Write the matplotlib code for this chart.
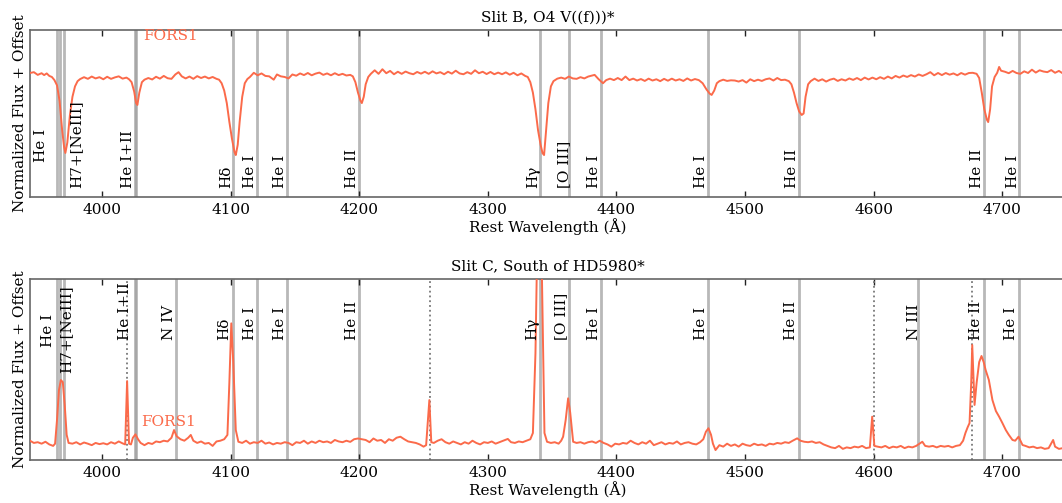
import matplotlib
matplotlib.use('Agg')
import matplotlib.pyplot as plt
import matplotlib.transforms as mtransforms

plt.rcParams['font.family'] = ['DejaVu Serif']
plt.rcParams['font.size'] = 11

# ---- Slit B spectrum (top) ----
wave_b = [3944, 3947, 3950, 3953, 3955, 3957, 3959, 3961, 3963, 3965, 3967, 3969, 3970.5, 3971.5, 3973, 3975,
          3977, 3979, 3981, 3983, 3986, 3989, 3992, 3995, 3998, 4001, 4004, 4007, 4010, 4013, 4016, 4019,
          4021, 4023, 4025, 4026.5, 4027.5, 4029, 4031, 4033, 4036, 4039, 4042, 4045, 4048, 4051, 4054, 4057,
          4059.5, 4062, 4065, 4068, 4071, 4074, 4077, 4080, 4083, 4086, 4089, 4091, 4093, 4095, 4097, 4099,
          4101, 4103, 4104, 4105.5, 4107, 4109, 4111, 4113, 4115, 4118, 4121, 4124, 4127, 4130, 4133.5, 4136,
          4139, 4142, 4145, 4148, 4151, 4154, 4157, 4160, 4163, 4166, 4169, 4172, 4175, 4178, 4181, 4184,
          4187, 4190, 4193, 4195, 4197, 4199, 4201, 4202, 4203.5, 4205, 4207, 4209, 4212, 4215, 4218, 4221,
          4224, 4227, 4230, 4233, 4236, 4239, 4242, 4245, 4248, 4251, 4254, 4257, 4260, 4263, 4266, 4269,
          4272, 4275, 4278, 4281, 4284, 4287, 4290, 4293, 4296, 4299, 4302, 4305, 4308, 4311, 4314, 4317,
          4320, 4323, 4326, 4329, 4331, 4333, 4335, 4337, 4339, 4341, 4342.5, 4343.7, 4345, 4347, 4349, 4351,
          4354, 4357, 4360, 4363, 4366, 4369, 4372, 4375, 4378, 4381, 4383, 4386, 4389.5, 4392, 4395, 4398,
          4401, 4404, 4407, 4410, 4413, 4416, 4419, 4422, 4425, 4428, 4431, 4434, 4437, 4440, 4443, 4446,
          4449, 4452, 4455, 4458, 4461, 4464, 4467, 4470, 4472.5, 4474, 4476, 4478, 4480, 4483, 4486, 4489,
          4492, 4495, 4498, 4501, 4504, 4507, 4510, 4513, 4516, 4519, 4522, 4525, 4528, 4531, 4534, 4536,
          4538, 4540, 4542, 4544, 4545.5, 4547, 4549, 4551, 4554, 4557, 4560, 4563, 4566, 4569, 4572, 4575,
          4578, 4581, 4584, 4587, 4590, 4593, 4596, 4599, 4602, 4605, 4608, 4611, 4614, 4617, 4620, 4623,
          4626, 4629, 4632, 4635, 4638, 4641, 4644, 4647, 4650, 4653, 4656, 4659, 4662, 4665, 4668, 4671,
          4674, 4677, 4680, 4682, 4684, 4686, 4688, 4689, 4690.5, 4692, 4694, 4696, 4697.5, 4699, 4702, 4705,
          4708, 4711, 4714, 4717, 4720, 4723, 4726, 4729, 4732, 4735, 4738, 4741, 4744, 4747, 4749]
flux_b = [0.994, 0.998, 0.985, 0.993, 0.984, 0.992, 0.980, 0.975, 0.960, 0.935, 0.860, 0.720, 0.640, 0.611, 0.660, 0.790,
          0.880, 0.930, 0.955, 0.965, 0.974, 0.966, 0.977, 0.968, 0.974, 0.964, 0.976, 0.966, 0.973, 0.978, 0.967, 0.972,
          0.964, 0.950, 0.905, 0.850, 0.841, 0.900, 0.950, 0.962, 0.970, 0.963, 0.976, 0.967, 0.980, 0.969, 0.966, 0.987,
          0.998, 0.978, 0.968, 0.977, 0.966, 0.979, 0.970, 0.977, 0.968, 0.975, 0.966, 0.962, 0.945, 0.910, 0.850, 0.760,
          0.680, 0.615, 0.601, 0.650, 0.760, 0.880, 0.945, 0.965, 0.975, 0.995, 0.983, 0.992, 0.980, 0.978, 0.962, 0.987,
          0.978, 0.975, 0.968, 0.987, 0.981, 0.992, 0.984, 0.994, 0.983, 0.991, 0.996, 0.985, 0.992, 0.983, 0.993, 0.984,
          0.990, 0.982, 0.985, 0.978, 0.950, 0.900, 0.860, 0.850, 0.880, 0.940, 0.975, 0.990, 1.007, 0.990, 1.012, 0.993,
          1.004, 0.988, 1.000, 0.990, 1.001, 0.993, 0.988, 0.999, 0.991, 1.000, 0.990, 1.002, 0.992, 0.998, 0.988, 1.000,
          0.991, 1.005, 0.992, 0.988, 0.998, 0.990, 1.007, 0.993, 1.000, 0.989, 0.999, 0.988, 0.996, 0.988, 0.997, 0.986,
          0.995, 0.983, 0.992, 0.980, 0.975, 0.950, 0.900, 0.820, 0.720, 0.650, 0.610, 0.601, 0.700, 0.850, 0.930, 0.955,
          0.967, 0.972, 0.966, 0.977, 0.968, 0.966, 0.974, 0.968, 0.977, 0.982, 0.985, 0.965, 0.945, 0.960, 0.967, 0.960,
          0.970, 0.960, 0.977, 0.960, 0.967, 0.958, 0.965, 0.956, 0.967, 0.958, 0.964, 0.955, 0.966, 0.957, 0.967, 0.958,
          0.964, 0.956, 0.968, 0.958, 0.965, 0.960, 0.945, 0.915, 0.895, 0.889, 0.910, 0.945, 0.955, 0.962, 0.956, 0.959,
          0.958, 0.953, 0.960, 0.948, 0.964, 0.955, 0.962, 0.956, 0.964, 0.968, 0.958, 0.970, 0.960, 0.962, 0.955, 0.940,
          0.900, 0.850, 0.810, 0.793, 0.800, 0.880, 0.940, 0.955, 0.967, 0.956, 0.964, 0.953, 0.962, 0.967, 0.956, 0.964,
          0.958, 0.968, 0.961, 0.970, 0.960, 0.972, 0.963, 0.972, 0.964, 0.974, 0.966, 0.977, 0.968, 0.980, 0.972, 0.982,
          0.975, 0.984, 0.977, 0.987, 0.980, 0.988, 0.998, 0.983, 0.994, 0.984, 0.994, 0.986, 0.992, 0.983, 0.994, 0.986,
          0.994, 0.995, 0.990, 0.970, 0.900, 0.820, 0.770, 0.759, 0.820, 0.930, 0.975, 0.995, 1.023, 1.005, 1.000, 0.993,
          1.004, 0.994, 0.990, 1.002, 0.994, 1.010, 0.996, 1.007, 1.001, 0.998, 1.008, 0.995, 1.004, 0.992, 0.985]

# ---- Slit C spectrum (bottom) ----
wave_c = [3944, 3947, 3950, 3953, 3956, 3959, 3962, 3963.5, 3965, 3966.5, 3968, 3969.5, 3971, 3972.5, 3974, 3977,
          3980, 3983, 3986, 3989, 3992, 3995, 3998, 4001, 4004, 4007, 4010, 4013, 4016, 4018, 4019.5, 4021,
          4022.5, 4024, 4026, 4028, 4030, 4033, 4036, 4039, 4042, 4045, 4048, 4051, 4054, 4056, 4058, 4061,
          4064, 4067, 4069, 4071, 4074, 4077, 4080, 4083, 4086, 4089, 4092, 4095, 4097.5, 4099, 4100.5, 4102,
          4104, 4106, 4109, 4112, 4115, 4118, 4121, 4124, 4127, 4130, 4133, 4136, 4139, 4142, 4145, 4148,
          4151, 4154, 4157, 4160, 4163, 4166, 4169, 4172, 4175, 4178, 4181, 4184, 4187, 4190, 4193, 4196,
          4199, 4202, 4205, 4208, 4211, 4214, 4217, 4220, 4223, 4226, 4229, 4232, 4235, 4238, 4241, 4244,
          4247, 4250, 4252, 4254.5, 4256, 4258, 4261, 4264, 4267, 4270, 4273, 4276, 4279, 4282, 4285, 4288,
          4291, 4294, 4297, 4300, 4303, 4306, 4309, 4312, 4315.5, 4318, 4321, 4324, 4327, 4330, 4333, 4335,
          4337, 4338.5, 4341.5, 4343, 4344, 4346, 4349, 4352, 4355, 4357, 4358.5, 4360.5, 4362.4, 4364, 4366.3, 4369,
          4372, 4375, 4378, 4381, 4384, 4387, 4390, 4393, 4396, 4399, 4402, 4405, 4408, 4411, 4414, 4417,
          4420, 4423, 4426, 4429, 4432, 4435, 4438, 4441, 4444, 4447, 4450, 4453, 4456, 4459, 4462, 4465,
          4467.5, 4469.5, 4471.5, 4473.5, 4475, 4477, 4480, 4483, 4486, 4489, 4492, 4495, 4498, 4501, 4504, 4507,
          4510, 4513, 4516, 4519, 4522, 4525, 4528, 4531, 4534, 4537, 4540.5, 4543, 4546, 4549, 4552, 4555,
          4558, 4561, 4564, 4567, 4570, 4573, 4576, 4579, 4582, 4585, 4588, 4591, 4594, 4597, 4598.8, 4600.5,
          4603, 4606, 4609, 4612, 4615, 4618, 4621, 4624, 4627, 4630, 4633, 4635.5, 4637.8, 4640, 4643, 4646,
          4649, 4652, 4655, 4658, 4661, 4664, 4667, 4669.5, 4671.3, 4673, 4674.5, 4675.8, 4676.6, 4677.5, 4678.4, 4680,
          4682, 4683.8, 4685.5, 4687, 4689.5, 4692.3, 4695, 4697.5, 4700, 4702.7, 4705, 4707.9, 4710, 4712.6, 4715.7, 4718,
          4721, 4724, 4727, 4730, 4733, 4736, 4739.5, 4741, 4744, 4747, 4749]
flux_c = [1.010, 0.995, 1.000, 0.990, 1.003, 0.985, 0.975, 0.990, 1.150, 1.350, 1.419, 1.405, 1.250, 1.050, 0.995, 0.990,
          1.000, 0.985, 0.998, 0.990, 0.980, 0.995, 0.987, 0.993, 0.985, 1.000, 0.990, 1.005, 0.992, 0.985, 1.412, 0.990,
          0.985, 1.030, 1.053, 1.020, 0.995, 0.980, 0.995, 0.988, 1.005, 1.000, 1.010, 1.005, 1.030, 1.082, 1.040, 1.020,
          1.010, 1.030, 1.049, 1.010, 0.995, 1.005, 0.990, 0.995, 0.975, 1.005, 1.010, 1.020, 1.049, 1.400, 1.801, 1.550,
          1.082, 1.003, 0.995, 1.010, 0.990, 1.000, 0.995, 1.010, 0.990, 0.998, 0.985, 0.995, 0.990, 1.000, 0.995, 0.980,
          1.000, 0.995, 1.010, 0.990, 1.005, 0.995, 1.010, 1.000, 1.005, 0.995, 1.015, 1.005, 1.000, 1.010, 1.002, 1.020,
          1.025, 1.020, 1.015, 1.000, 1.025, 1.010, 1.015, 0.995, 1.020, 1.010, 1.030, 1.037, 1.020, 1.005, 1.000, 0.995,
          0.985, 0.970, 0.980, 1.284, 1.000, 0.995, 1.010, 1.020, 1.000, 0.990, 1.005, 0.995, 0.985, 1.000, 0.990, 1.010,
          0.995, 0.985, 1.000, 0.995, 1.005, 0.990, 1.000, 1.010, 1.022, 1.000, 0.995, 1.005, 1.000, 1.010, 1.020, 1.062,
          1.600, 2.400, 2.400, 1.600, 1.062, 1.003, 0.995, 1.000, 0.990, 1.010, 1.037, 1.150, 1.296, 1.200, 1.003, 0.995,
          1.000, 0.990, 1.000, 1.005, 0.995, 1.010, 0.995, 0.985, 0.970, 0.990, 0.985, 0.995, 0.990, 1.010, 0.995, 0.985,
          1.000, 0.990, 1.010, 0.980, 0.990, 1.000, 0.985, 0.995, 0.990, 1.005, 0.985, 0.995, 1.000, 0.990, 0.985, 1.000,
          1.020, 1.070, 1.094, 1.050, 0.990, 0.947, 0.980, 0.970, 0.990, 0.975, 0.985, 0.970, 0.990, 0.980, 0.975, 0.990,
          0.980, 0.985, 0.975, 0.990, 0.985, 0.995, 0.990, 1.000, 0.995, 1.010, 1.026, 1.010, 1.003, 1.000, 1.005, 0.995,
          1.000, 0.985, 0.975, 0.965, 0.960, 0.975, 0.955, 0.965, 0.960, 0.970, 0.965, 0.975, 0.960, 0.965, 1.172, 0.975,
          0.970, 0.965, 0.975, 0.960, 0.970, 0.965, 0.975, 0.960, 0.970, 0.965, 0.975, 0.990, 1.003, 0.975, 0.970, 0.975,
          0.965, 0.975, 0.970, 0.975, 0.965, 0.975, 0.980, 1.010, 1.062, 1.100, 1.129, 1.400, 1.655, 1.450, 1.251, 1.400,
          1.540, 1.581, 1.540, 1.487, 1.420, 1.284, 1.210, 1.172, 1.130, 1.082, 1.050, 1.015, 1.010, 1.037, 0.981, 0.975,
          0.965, 0.970, 0.960, 0.965, 0.955, 0.960, 1.015, 0.970, 0.955, 0.960, 0.950]

# ---- line identifications ----
lines_b = [3964.7, 3967.5, 3970.1, 4025.6, 4026.4, 4101.7, 4120.8, 4143.8, 4199.8, 4340.5, 4363.2,
           4387.9, 4471.5, 4541.6, 4685.7, 4713.1]
lines_c = [3964.7, 3967.5, 3970.1, 4025.6, 4026.4, 4057.8, 4101.7, 4120.8, 4143.8, 4199.8, 4340.5,
           4363.2, 4387.9, 4471.5, 4541.6, 4634.1, 4685.7, 4713.1]
dotted_c = [4019.5, 4255.0, 4600.0, 4676.6]

names_b = ['He I', 'H7+[NeIII]', 'He I+II', 'Hδ', 'He I', 'He I', 'He II', 'Hγ', '[O III]',
           'He I', 'He I', 'He II', 'He II', 'He I']
label_x_b = [3958, 3985.5, 4026, 4101.7, 4120.8, 4143.8, 4199.8, 4341, 4365, 4388, 4471.5,
             4541.6, 4686, 4713.5]
label_y_b = [0.21, 0.054, 0.054, 0.054, 0.054, 0.054, 0.054, 0.054, 0.054, 0.054, 0.054,
             0.054, 0.054, 0.054]

names_c = ['He I', 'H7+[NeIII]', 'He I+II', 'N IV', 'Hδ', 'He I', 'He I', 'He II', 'Hγ', '[O III]',
           'He I', 'He I', 'He II', 'N III', 'He II', 'He I']
label_x_c = [3963.7, 3977.6, 4023.5, 4057.5, 4100.5, 4120.8, 4143.8, 4199.8, 4339.5, 4362.5,
             4388, 4471, 4541, 4637, 4685, 4712.5]
label_y_c = [0.625, 0.48, 0.663, 0.663, 0.663, 0.663, 0.663, 0.663, 0.663, 0.663,
             0.663, 0.663, 0.663, 0.663, 0.663, 0.663]

spec_color = '#fb6a4a'


def panel(ax, wave, flux, lines, names, lx, ly, title, ylim):
    for w in lines:
        ax.axvline(w, color='#a0a0a0', lw=2.0, alpha=0.75, zorder=1)
    ax.plot(wave, flux, color=spec_color, lw=1.4, zorder=3)
    tr = mtransforms.blended_transform_factory(ax.transData, ax.transAxes)
    for name, x, y in zip(names, lx, ly):
        ax.text(x, y, name, rotation=90, ha='right', va='bottom', transform=tr, fontsize=11, zorder=4)
    ax.set_xlim(3944, 4749.5)
    ax.set_ylim(*ylim)
    ax.set_title(title, fontsize=11, pad=6)
    ax.set_xlabel('Rest Wavelength (Å)', fontsize=11, labelpad=1)
    ax.set_ylabel('Normalized Flux + Offset', fontsize=11, labelpad=2)
    ax.set_xticks([4000, 4100, 4200, 4300, 4400, 4500, 4600, 4700])
    ax.set_yticks([])
    ax.tick_params(axis='x', direction='in', top=True, bottom=True, length=4, width=1,
                   color='#222222', labelsize=11, pad=4)
    for s in ax.spines.values():
        s.set_color('#666666')
        s.set_linewidth(1.2)


fig = plt.figure(figsize=(10.62, 5.03), dpi=100)
ax1 = fig.add_axes([30 / 1062, 1 - 197 / 503, 1036 / 1062, 167 / 503])
ax2 = fig.add_axes([30 / 1062, 1 - 460 / 503, 1036 / 1062, 181 / 503])

panel(ax1, wave_b, flux_b, lines_b, names_b, label_x_b, label_y_b, 'Slit B, O4 V((f)))*', (0.40, 1.20))
ax1.text(4053, 1.17, 'FORS1', color=spec_color, ha='center', va='center', fontsize=11)

panel(ax2, wave_c, flux_c, lines_c, names_c, label_x_c, label_y_c, 'Slit C, South of HD5980*', (0.88, 2.10))
for w in dotted_c:
    ax2.axvline(w, color='#777777', lw=1.3, ls=':', zorder=2)
ax2.text(4052, 1.136, 'FORS1', color=spec_color, ha='center', va='center', fontsize=11)

fig.savefig('out.png', dpi=100)
